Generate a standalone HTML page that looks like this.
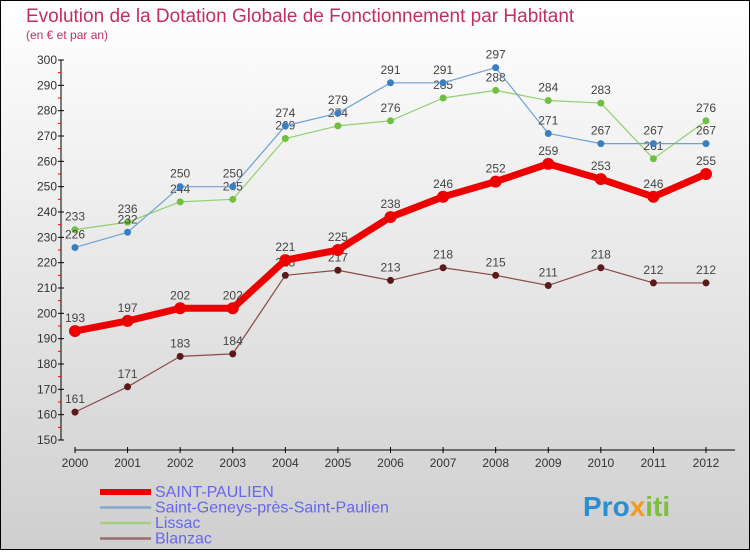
<!DOCTYPE html>
<html><head><meta charset="utf-8"><style>
html,body{margin:0;padding:0}
body{width:750px;height:550px;overflow:hidden;font-family:"Liberation Sans",sans-serif}
</style></head><body>
<svg id="chart" width="750" height="550" xmlns="http://www.w3.org/2000/svg">
<defs><linearGradient id="bg" x1="0" y1="0" x2="0" y2="1"><stop offset="0" stop-color="#ffffff"/><stop offset="1" stop-color="#cfcfcf"/></linearGradient></defs>
<rect x="0.5" y="0.5" width="749" height="549" fill="url(#bg)" stroke="#000" stroke-width="1"/>
<text x="26" y="22" font-size="19" fill="#c0305e">Evolution de la Dotation Globale de Fonctionnement par Habitant</text>
<text x="26" y="39" font-size="12" fill="#c0305e">(en € et par an)</text>
<g id="axes"></g><g id="series"></g><g id="legend"></g>
<text x="583" y="516" font-size="28" font-weight="bold" fill="#2a8fd0">Pro<tspan fill="#f29a1e">x</tspan><tspan fill="#7cbf3a">iti</tspan></text>
</svg>
<script>
const years=[2000,2001,2002,2003,2004,2005,2006,2007,2008,2009,2010,2011,2012];
const yTicks=[150,160,170,180,190,200,210,220,230,240,250,260,270,280,290,300];
const saintPaulien=[193,197,202,202,221,225,238,246,252,259,253,246,255];
const saintGeneys=[226,232,250,250,274,279,291,291,297,271,267,267,267];
const lissac=[233,236,244,245,269,274,276,285,288,284,283,261,276];
const blanzac=[161,171,183,184,215,217,213,218,215,211,218,212,212];
const NS="http://www.w3.org/2000/svg";
const xS=i=>75+i*(706-75)/12;
const yS=v=>440-(v-150)*(380/150);
function mk(t,a,p){const e=document.createElementNS(NS,t);for(const k in a)e.setAttribute(k,a[k]);p.appendChild(e);return e;}
const ax=document.getElementById('axes');
const yAxis=mk('line',{x1:61,y1:60,x2:61,y2:440,stroke:'#000','stroke-width':1},ax);


yTicks.forEach(v=>{
  mk('line',{x1:58,x2:64,y1:yS(v),y2:yS(v),stroke:'#000'},ax);
  if(v<300)mk('line',{x1:58,x2:61,y1:yS(v+5),y2:yS(v+5),stroke:'#e00'},ax);
  const t=mk('text',{x:57,y:yS(v)+4,'font-size':12,'text-anchor':'end',fill:'#333'},ax);
  
  
  t.textContent=v;
});
const xAxis=mk('line',{x1:75,y1:450,x2:735,y2:450,stroke:'#000'},ax);


years.forEach((y,i)=>{
  mk('line',{x1:xS(i),x2:xS(i),y1:447,y2:453,stroke:'#000'},ax);
  const t=mk('text',{x:xS(i),y:467,'font-size':12,'text-anchor':'middle',fill:'#333'},ax);
  
  
  t.textContent=y;
});
const sg=document.getElementById('series');
function draw(name,vals,color,w,r,dot){
  const g=mk('g',{},sg);
  
  
  mk('polyline',{points:vals.map((v,i)=>xS(i)+','+yS(v)).join(' '),fill:'none',stroke:color,'stroke-width':w,'stroke-linejoin':'round'},g);
  vals.forEach((v,i)=>{
    const c=mk('circle',{cx:xS(i),cy:yS(v),r:r,fill:dot},g);
    
    
    const t=mk('text',{x:xS(i),y:yS(v)-9,'font-size':12,'text-anchor':'middle',fill:'#444'},g);
    
    
    t.textContent=v;
  });
}
draw('blanzac-series',blanzac,'#8a4a4a',1.2,3.5,'#5a1a1a');
draw('lissac-series',lissac,'#90d070',1.2,3.5,'#70c040');
draw('saint-geneys-series',saintGeneys,'#6fa0cf',1.2,3.5,'#3a80c0');
draw('saint-paulien-series',saintPaulien,'#ee0000',7,6,'#ee0000');
const lg=document.getElementById('legend');
[['SAINT-PAULIEN','#ee0000',6],['Saint-Geneys-près-Saint-Paulien','#7fa9cf',2.5],['Lissac','#a0d080',2.5],['Blanzac','#9a6a6a',2.5]].forEach((e,i)=>{
  const y=491+i*15.5;
  const g=mk('g',{},lg);
  
  
  mk('line',{x1:100,x2:151,y1:y+1,y2:y+1,stroke:e[1],'stroke-width':e[2]},g);
  const t=mk('text',{x:155,y:y+6,'font-size':16,fill:'#6666ee'},g);
  t.textContent=e[0];
});
</script>
</body></html>
